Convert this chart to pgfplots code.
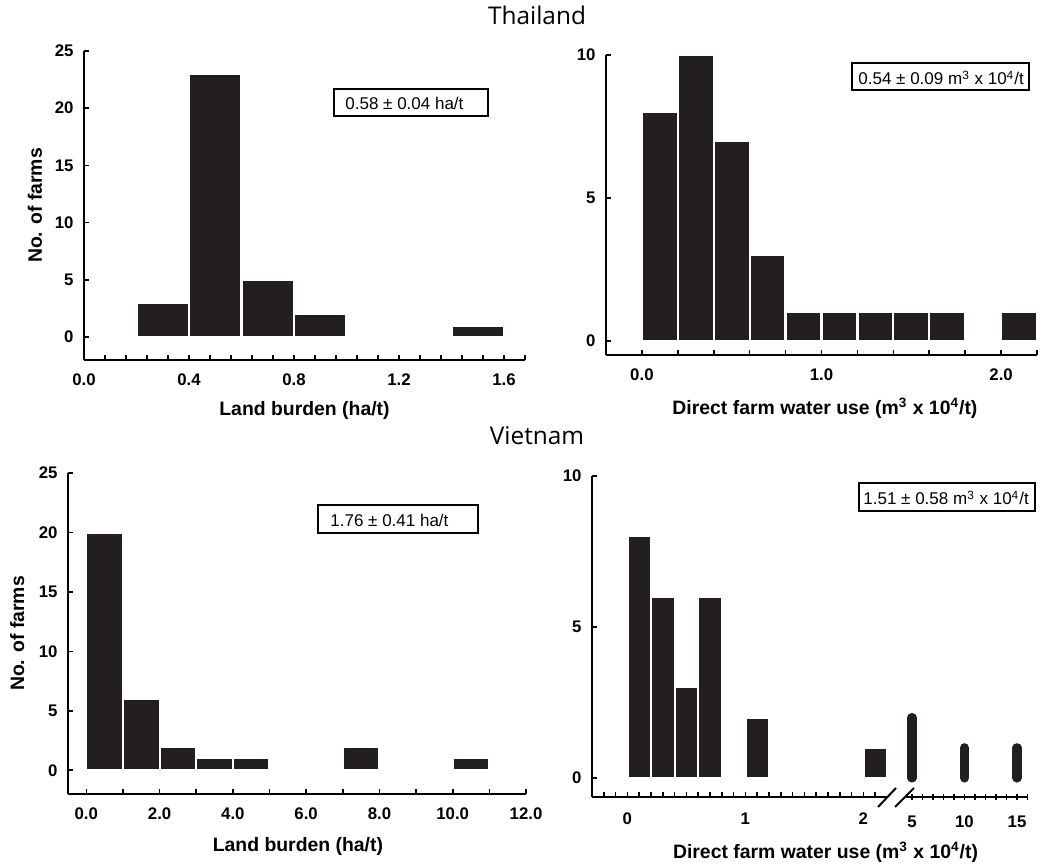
\documentclass[border=0pt]{standalone}
\usepackage{fontspec}
\setmainfont{Liberation Sans}
\newfontfamily\titlefont{Open Sans}
\usepackage{pgfplots}
\pgfplotsset{compat=1.18}
\definecolor{barc}{HTML}{231F20}
\pgfplotsset{
  hist/.style={
    scale only axis,
    axis lines=left,
    axis line style={-, line width=1pt, black},
    enlargelimits=false,
    tick align=inside,
    major tick length=2.6pt, minor tick length=2.6pt,
    tick style={black, line width=0.8pt},
    /pgf/number format/assume math mode=true,
    tick label style={font=\fontsize{8.4}{10}\selectfont\bfseries},
    label style={font=\fontsize{9.7}{11}\selectfont\bfseries},
    xticklabel style={yshift=-3.2pt},
    yticklabel style={xshift=-1.7pt},
    xlabel style={anchor=center},
    ylabel style={anchor=center},
    clip=false,
  },
  histbar/.style={ybar, bar width=0.2, bar shift=0pt, fill=barc, draw=white, line width=1.1pt},
}
\begin{document}
\begin{tikzpicture}
\useasboundingbox (0,0) rectangle (521pt,432.5pt);

% ---------------- Thailand: land burden
\begin{axis}[hist, at={(42pt,252.5pt)}, anchor=south west,
  width=220.5pt, height=154.5pt,
  xmin=0, xmax=1.68, ymin=-2, ymax=25,
  xtick={0,0.4,0.8,1.2,1.6}, xticklabels={0.0,0.4,0.8,1.2,1.6},
  minor xtick={0.08,0.16,0.24,0.32,0.48,0.56,0.64,0.72,0.88,0.96,1.04,1.12,1.28,1.36,1.44,1.52,1.68},
  ytick={0,5,10,15,20,25},
  xlabel={Land burden (ha/t)}, ylabel={No. of farms},
  xlabel style={at={(axis description cs:0.5,-0.162)}},
  ylabel style={at={(axis description cs:-0.111,0.5)}},
]
\addplot[histbar] coordinates {(0.3,3) (0.5,23) (0.7,5) (0.9,2) (1.5,1)};
\end{axis}

% ---------------- Thailand: water use
\begin{axis}[hist, at={(303pt,255pt)}, anchor=south west,
  width=215.5pt, height=150pt,
  xmin=-0.2, xmax=2.2, ymin=-0.5, ymax=10,
  xtick={0,1,2}, xticklabels={0.0,1.0,2.0},
  minor xtick={0.2,0.4,0.6,0.8,1.2,1.4,1.6,1.8,2.2},
  ytick={0,5,10},
  xlabel={Direct farm water use (m\textsuperscript{3} x 10\textsuperscript{4}/t)},
  xlabel style={at={(axis description cs:0.508,-0.177)}},
]
\addplot[histbar] coordinates {(0.1,8) (0.3,10) (0.5,7) (0.7,3) (0.9,1) (1.1,1) (1.3,1) (1.5,1) (1.7,1) (2.1,1)};
\end{axis}

% ---------------- Vietnam: land burden
\begin{axis}[hist, at={(34pt,35.5pt)}, anchor=south west,
  width=229pt, height=160.5pt,
  xmin=-0.5, xmax=12, ymin=-2, ymax=25,
  xtick={0,2,4,6,8,10,12}, xticklabels={0.0,2.0,4.0,6.0,8.0,10.0,12.0},
  minor xtick={1,3,5,7,9,11},
  ytick={0,5,10,15,20,25},
  xlabel={Land burden (ha/t)}, ylabel={No. of farms},
  xlabel style={at={(axis description cs:0.502,-0.165)}},
  ylabel style={at={(axis description cs:-0.111,0.5)}},
]
\addplot[histbar, bar width=1] coordinates {(0.5,20) (1.5,6) (2.5,2) (3.5,1) (4.5,1) (7.5,2) (10.5,1)};
\end{axis}

% ---------------- Vietnam: water use (broken axis, left part)
\begin{axis}[hist, at={(296pt,34pt)}, anchor=south west,
  width=147.5pt, height=160.5pt,
  xmin=-0.3, xmax=2.2, ymin=-0.63, ymax=10,
  xtick={0,1,2}, xticklabels={0,1,2},
  minor xtick={-0.2,-0.1,0.1,0.2,0.3,0.4,0.5,0.6,0.7,0.8,0.9,1.1,1.2,1.3,1.4,1.5,1.6,1.7,1.8,1.9,2.1},
  ytick={0,5,10},
  xticklabel style={yshift=-1.2pt},
]
\addplot[histbar] coordinates {(0.1,8) (0.3,6) (0.5,3) (0.7,6) (1.1,2) (2.1,1)};
\end{axis}

% ---------------- Vietnam: water use (broken axis, right part)
\begin{axis}[hist, at={(452.25pt,34pt)}, anchor=south west,
  width=61.5pt, height=160.5pt,
  xmin=4.29, xmax=16, ymin=-0.63, ymax=10,
  axis y line=none, axis x line=bottom,
  x axis line style={-},
  axis line style={-, line width=1pt, black},
  xtick={5,10,15}, xticklabels={5,10,15},
  minor xtick={6,7,8,9,11,12,13,14,16},
  ytick=\empty,
  xticklabel style={yshift=-1.2pt},
]
\addplot[ycomb, mark=none, line width=4.6pt, line cap=round, color=barc] coordinates {(5,2) (10,1) (15,1)};
\end{axis}

% break marks
\draw[line width=1pt] (439pt,29pt) -- (448pt,38.5pt);
\draw[line width=1pt] (447.5pt,29pt) -- (457pt,38.5pt);

% shared x label for the broken axis
\node[font=\fontsize{9.7}{11}\selectfont\bfseries, anchor=center] at (412.75pt,6.5pt)
  {Direct farm water use (m\textsuperscript{3} x 10\textsuperscript{4}/t)};

% titles
\node[font=\titlefont\fontsize{12.2}{14}\selectfont, anchor=base] at (268.5pt,420pt) {Thailand};
\node[font=\titlefont\fontsize{12.2}{14}\selectfont, anchor=base] at (268.5pt,210pt) {Vietnam};

% annotation boxes
\begin{scope}[font=\fontsize{8.5}{10}\selectfont]
\draw[line width=1pt] (167pt,388pt) rectangle (244pt,374.5pt);
\node[anchor=base west, inner sep=0pt] at (172.5pt,377.5pt) {0.58 ± 0.04 ha/t};
\draw[line width=1pt] (426pt,401pt) rectangle (514.5pt,387.5pt);
\node[anchor=base west, inner sep=0pt] at (429pt,390pt) {0.54 ± 0.09 m\textsuperscript{3} x 10\textsuperscript{4}/t};
\draw[line width=1pt] (159pt,180pt) rectangle (239pt,166pt);
\node[anchor=base west, inner sep=0pt] at (165pt,169pt) {1.76 ± 0.41 ha/t};
\draw[line width=1pt] (429.5pt,191pt) rectangle (517.5pt,177pt);
\node[anchor=base west, inner sep=0pt] at (431.5pt,180pt) {1.51 ± 0.58 m\textsuperscript{3} x 10\textsuperscript{4}/t};
\end{scope}
\end{tikzpicture}
\end{document}
